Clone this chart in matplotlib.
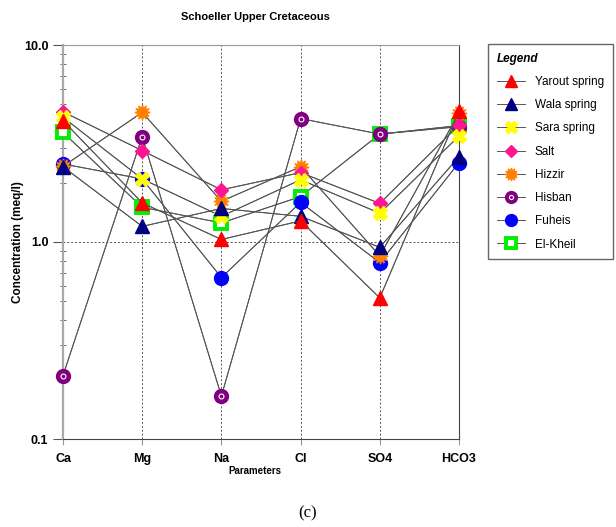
import numpy as np
import matplotlib
matplotlib.use("Agg")
import matplotlib.pyplot as plt
from matplotlib.legend_handler import HandlerTuple

plt.rcParams['font.family'] = ['Liberation Sans', 'DejaVu Sans']

params = ['Ca', 'Mg', 'Na', 'Cl', 'SO4', 'HCO3']

yarout = [4.13, 1.58, 1.03, 1.28, 0.52, 4.62]
wala = [2.41, 1.20, 1.48, 1.35, 0.94, 2.71]
sara = [4.30, 2.09, 1.35, 2.07, 1.40, 3.45]
salt = [4.58, 2.91, 1.84, 2.25, 1.57, 3.93]
hizzir = [2.42, 4.55, 1.61, 2.41, 0.85, 4.53]
hisban = [0.21, 3.43, 0.165, 4.23, 3.53, 3.85]
fuheis = [2.49, 2.09, 0.66, 1.59, 0.785, 2.53]
elkheil = [3.60, 1.50, 1.25, 1.70, 3.53, 3.90]

names = ['Yarout spring', 'Wala spring', 'Sara spring', 'Salt', 'Hizzir',
         'Hisban', 'Fuheis', 'El-Kheil']
series = [yarout, wala, sara, salt, hizzir, hisban, fuheis, elkheil]

# marker styles per series
styles = [
    dict(marker='^', ms=10, mfc='#ff0000', mec='#ff0000'),
    dict(marker='^', ms=10, mfc='#000080', mec='#000080'),
    dict(marker='X', ms=10, mfc='#ffff00', mec='#ffff00'),
    dict(marker='D', ms=7.5, mfc='#ff1493', mec='#ff1493'),
    dict(marker=(12, 1, 0), ms=11, mfc='#ff8000', mec='#ff8000'),
    dict(marker='o', ms=10, mfc='#800080', mec='#800080'),
    dict(marker='o', ms=10, mfc='#0000ff', mec='#0000ff'),
    dict(marker='s', ms=9, mfc='white', mec='#00ee00', mew=2.8),
]

fig = plt.figure(figsize=(6.16, 5.27), dpi=100)
ax = fig.add_axes([63 / 616, 1 - 439 / 527, 396 / 616, 394 / 527])

x = np.arange(len(params))
handles = {}
# draw in reverse so the first series sits on top
for i in reversed(range(len(series))):
    ax.plot(x, series[i], color='#555555', lw=0.7, zorder=2)
    h, = ax.plot(x, series[i], ls='-', color='#555555', lw=0.7,
                 zorder=3 + (len(series) - i), clip_on=False, **styles[i])
    handles[i] = h
    if names[i] == 'Hisban':
        ring, = ax.plot(x, series[i], ls='none', marker='o', ms=3.5,
                        mfc='none', mec='white', mew=0.8, clip_on=False,
                        zorder=3.5 + (len(series) - i))
        handles[i] = (h, ring)

ax.set_yscale('log')
ax.set_ylim(0.1, 10)
ax.set_xlim(0, 5)
ax.set_xticks(x)
ax.set_xticklabels(params, fontsize=9, fontweight='bold')
ax.set_yticks([0.1, 1.0, 10.0])
ax.set_yticklabels(['0.1', '1.0', '10.0'], fontsize=9, fontweight='bold')
ax.tick_params(axis='y', which='major', direction='out', length=7, color='#555555')
ax.tick_params(axis='y', which='minor', direction='inout', length=5, color='#555555')
ax.tick_params(axis='x', direction='out', length=4, color='#999999', pad=6)

for xv in x[1:-1]:
    ax.axvline(xv, color='#555555', ls=(0, (2, 2)), lw=0.7, zorder=1)
ax.axhline(1.0, color='#555555', ls=(0, (2, 2)), lw=0.7, zorder=1)

ax.spines['top'].set_color('#999999')
ax.spines['left'].set_color('#aaaaaa')
ax.spines['left'].set_linewidth(1.6)
ax.spines['bottom'].set_color('#444444')
ax.spines['right'].set_color('#444444')

ax.set_ylabel('Concentration (meq/l)', fontsize=8.5, fontweight='bold')
ax.yaxis.set_label_coords((24 - 63) / 396, 0.5)
fig.text(255 / 616, 1 - 471 / 527, 'Parameters', fontsize=7, fontweight='bold',
         ha='center', va='center')
fig.text(255 / 616, 1 - 17 / 527, 'Schoeller Upper Cretaceous', fontsize=8,
         fontweight='bold', ha='center', va='center')
fig.text(308 / 616, 1 - 513 / 527, '(c)', fontsize=12, family='Liberation Serif',
         ha='center', va='center')

leg = ax.legend([handles[i] for i in range(len(series))], names,
                handler_map={tuple: HandlerTuple(ndivide=1)},
                loc='upper left', bbox_to_anchor=(488 / 616, 1 - 44 / 527),
                bbox_transform=fig.transFigure, borderaxespad=0,
                fontsize=8.5, title='Legend', alignment='left',
                fancybox=False, edgecolor='#666666', framealpha=1,
                handlelength=2.4, handletextpad=0.8, labelspacing=0.95,
                borderpad=0.75, markerscale=0.85)
leg.get_title().set_fontweight('bold')
leg.get_title().set_fontstyle('italic')
leg.get_title().set_fontsize(8.5)
leg.get_frame().set_linewidth(1.0)

fig.savefig('out.png', dpi=100)
